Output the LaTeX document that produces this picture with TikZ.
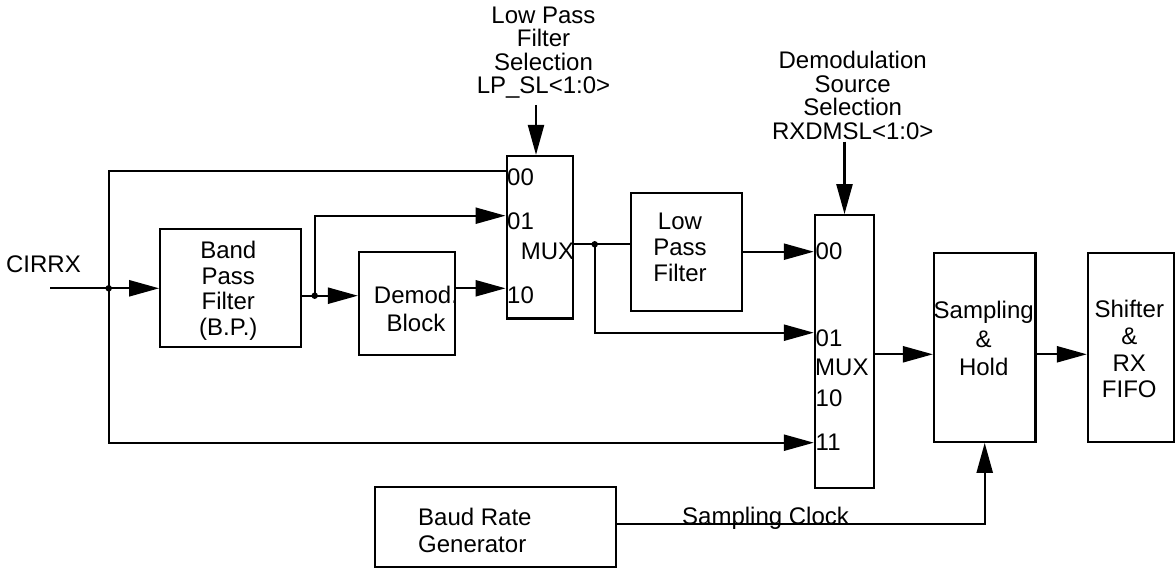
\documentclass[tikz,border=0pt]{standalone}
\usepackage{fontspec}
\setmainfont{Liberation Sans}
\usetikzlibrary{arrows.meta}
\begin{document}
\begin{tikzpicture}[x=1pt,y=-1pt,
  every node/.style={inner sep=0pt, font=\fontsize{24}{24}\selectfont},
  box/.style={draw, line width=2.3pt, rectangle},
  wire/.style={line width=2.3pt},
  arr/.style={line width=2.3pt, -{Triangle[length=30pt,width=16pt]}},
  jdot/.style={circle, fill, minimum size=6.5pt, inner sep=0pt},
  lbl/.style={anchor=base, align=center},
  pin/.style={anchor=base west}]
\useasboundingbox (0,0) rectangle (1175,569);

% boxes
\node[box, minimum width=141pt, minimum height=118pt] (bpf) at (230.8,288.3) {};
\node[box, minimum width=95.7pt, minimum height=103.3pt] (demod) at (406.9,303.4) {};
\node[box, minimum width=66.6pt, minimum height=162.3pt] (mux1) at (540,237.2) {};
\node[box, minimum width=111pt, minimum height=117.4pt] (lpf) at (686.2,252) {};
\node[box, minimum width=59pt, minimum height=272.4pt] (mux2) at (844.5,351.5) {};
\node[box, minimum width=101.3pt, minimum height=188.4pt] (sh) at (984.7,347.5) {};
\node[box, minimum width=86pt, minimum height=188.4pt] (shift) at (1131,347.5) {};
\node[box, minimum width=241.6pt, minimum height=80.6pt] (baud) at (495.5,527) {};

% box texts (anchor = baseline of last line)
\node[lbl, font=\fontsize{24}{25.6}\selectfont] (bpft) at (228.3,335.4) {Band\\Pass\\Filter\\(B.P.)};
\node[lbl, font=\fontsize{24}{28.3}\selectfont] (demodt) at (416,331.9) {Demod.\\Block};
\node[lbl, font=\fontsize{24}{26.2}\selectfont] (lpft) at (680,282) {Low\\Pass\\Filter};
\node[lbl, font=\fontsize{24}{28.6}\selectfont] (sht) at (983.7,375.8) {Sampling\\\&\\Hold};
\node[lbl, font=\fontsize{24}{26.6}\selectfont] (shiftt) at (1129.3,397.7) {Shifter\\\&\\RX\\FIFO};
\node[anchor=base west, align=left, font=\fontsize{24}{27.6}\selectfont] (baudt) at (418,552.9) {Baud Rate\\Generator};

% outside texts
\node[lbl] (cirrx) at (43.5,273) {CIRRX};
\node[lbl, font=\fontsize{24}{23.3}\selectfont] (lpsel) at (543.5,93.5) {Low Pass\\Filter\\Selection\\LP\_SL<1:0>};
\node[lbl, font=\fontsize{24}{23.6}\selectfont] (dmsel) at (852.7,139.4) {Demodulation\\Source\\Selection\\RXDMSL<1:0>};
\node[pin] (clk) at (682,524) {Sampling Clock};

% mux pin labels
\node[pin] (m1a) at (507,185.3) {00};
\node[pin] (m1b) at (507,229.3) {01};
\node[pin] (m1m) at (520.7,259.3) {MUX};
\node[pin] (m1c) at (507,303.6) {10};
\node[pin] (m2a) at (815.5,259.3) {00};
\node[pin] (m2b) at (815.5,346.9) {01};
\node[pin] (m2m) at (815,375.9) {MUX};
\node[pin] (m2c) at (815.5,406.3) {10};
\node[pin] (m2d) at (815.5,450.6) {11};

% junctions and free ends
\coordinate (cin) at (50,288.3);
\node[jdot] (j1) at (108.7,288.3) {};
\node[jdot] (j2) at (314.7,295.7) {};
\node[jdot] (j3) at (594.7,244.3) {};
\coordinate (lpa) at (536,105);
\coordinate (dma) at (844.5,141.7);

% connectors
\draw[arr] (cin) -- (bpf.west);
\draw[wire] (j1.center) |- (mux1.west |- 0,170.7);
\draw[arr] (j1.center) |- (mux2.west |- 0,442.7);
\draw[wire] (bpf.east |- j2) -- (j2.center);
\draw[arr] (j2.center) -- (demod.west |- j2);
\draw[arr] (j2.center) |- (mux1.west |- 0,215.7);
\draw[arr] (demod.east |- 0,288.3) -- (mux1.west |- 0,288.3);
\draw[wire] (mux1.east |- j3) -- (lpf.west |- j3);
\draw[arr] (j3.center) |- (mux2.west |- 0,332.7);
\draw[arr] (lpf.east |- 0,251.7) -- (mux2.west |- 0,251.7);
\draw[arr] (mux2.east |- 0,354.3) -- (sh.west |- 0,354.3);
\draw[arr] (sh.east |- 0,354.3) -- (shift.west |- 0,354.3);
\draw[arr] (baud.east |- 0,524) -| (sh.south);
\draw[arr] (lpa) -- (lpa |- mux1.north);
\draw[arr] (dma) -- (mux2.north);
\end{tikzpicture}
\end{document}
